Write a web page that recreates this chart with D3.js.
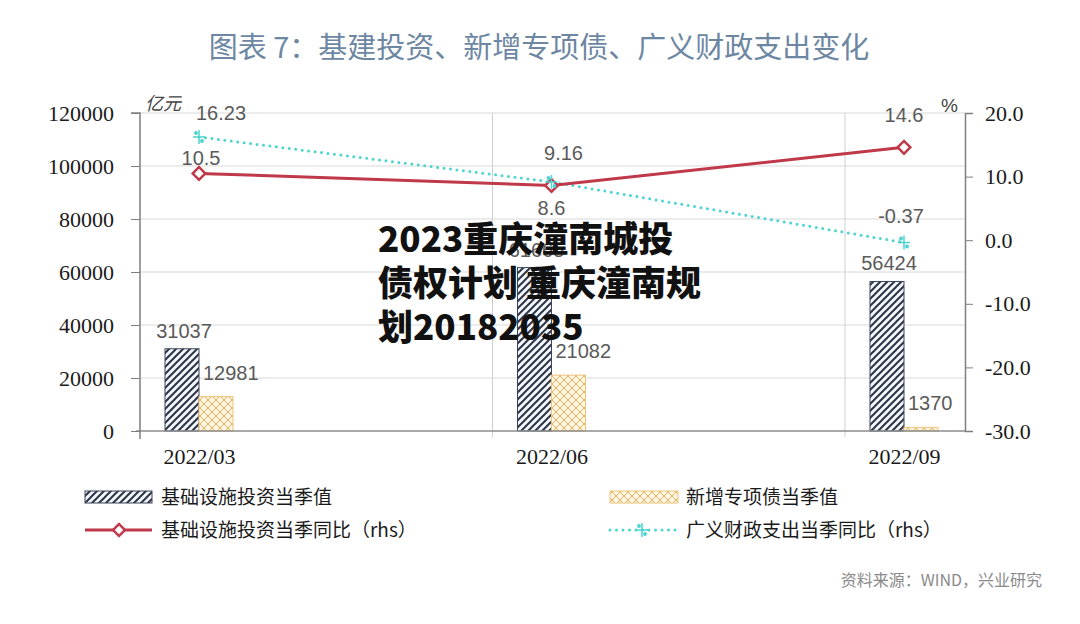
<!DOCTYPE html>
<html>
<head>
<meta charset="utf-8">
<script src="https://cdn.jsdelivr.net/npm/d3@7"></script>
<style>
  html, body { margin: 0; padding: 0; background: #fff; }
  svg { display: block; }
</style>
</head>
<body>
<svg id="chart" width="1080" height="624"></svg>
<script>
// ---------------- data ----------------
const categories = ["2022/03", "2022/06", "2022/09"];
const infraValue = [31037, 61665, 56424];       // 基础设施投资当季值 (亿元)
const bondValue = [12981, 21082, 1370];         // 新增专项债当季值 (亿元)
const infraYoY = [10.5, 8.6, 14.6];             // 基础设施投资当季同比 (rhs, %)
const fiscalYoY = [16.23, 9.16, -0.37];         // 广义财政支出当季同比 (rhs, %)
const leftTicks = [0, 20000, 40000, 60000, 80000, 100000, 120000];
const rightTicks = [-30, -20, -10, 0, 10, 20];
const titleText = "图表 7：基建投资、新增专项债、广义财政支出变化";
const legendLabels = ["基础设施投资当季值", "新增专项债当季值", "基础设施投资当季同比（rhs）", "广义财政支出当季同比（rhs）"];
const sourceText = "资料来源：WIND，兴业研究";
const overlayLines = ["2023重庆潼南城投", "债权计划 重庆潼南规", "划20182035"];

// ---------------- layout / style ----------------
const plot = { left: 140, right: 965, top: 113, bottom: 431 };
const RED = "#c0394a", CYAN = "#4cd4cf", NAVY = "#2c3547";
const serif = "'Liberation Serif', 'DejaVu Serif', serif";
const sans = "'Liberation Sans', Arial, sans-serif";
const cjk = "'Noto Sans CJK SC', sans-serif";

const svg = d3.select("#chart");

// scales
const x = d3.scaleBand().domain(categories).range([plot.left, plot.left + 352.5 * categories.length]).padding(0);
const groupOffset = 59;  // center of each bar pair from start of band
const barW = 34;
const y = d3.scaleLinear().domain([0, 120000]).range([plot.bottom, plot.top]);
const yr = d3.scaleLinear().domain([-30, 20]).range([plot.bottom, plot.top]);
const cx = c => x(c) + groupOffset;

// patterns
const defs = svg.append("defs");
const hp = defs.append("pattern").attr("id", "hatch").attr("patternUnits", "userSpaceOnUse")
  .attr("width", 7).attr("height", 7);
hp.append("rect").attr("width", 7).attr("height", 7).attr("fill", "#f4f7fb");
hp.append("path").attr("d", "M-1,8 L8,-1 M-2,2 L2,-2 M5,9 L9,5").attr("stroke", NAVY).attr("stroke-width", 2);

const cp = defs.append("pattern").attr("id", "cross").attr("patternUnits", "userSpaceOnUse")
  .attr("width", 8).attr("height", 8);
cp.append("rect").attr("width", 8).attr("height", 8).attr("fill", "#fdf4e2");
cp.append("path").attr("d", "M0,0 L8,8 M8,0 L0,8").attr("stroke", "#e2b562").attr("stroke-width", 1);

// title
svg.append("text").attr("x", 539).attr("y", 58).attr("text-anchor", "middle")
  .attr("font-family", cjk).attr("font-size", 29).attr("fill", "#6d87a3").text(titleText);

// horizontal gridlines
svg.append("g").selectAll("line").data(leftTicks.filter(d => d > 0)).join("line")
  .attr("x1", plot.left).attr("x2", plot.right)
  .attr("y1", d => y(d)).attr("y2", d => y(d))
  .attr("stroke", "#d9d9d9").attr("stroke-width", 1);

// vertical gridlines at category band starts
svg.append("g").selectAll("line").data(categories.slice(1)).join("line")
  .attr("x1", d => x(d)).attr("x2", d => x(d))
  .attr("y1", plot.top).attr("y2", plot.bottom + 6)
  .attr("stroke", "#d0d0d0").attr("stroke-width", 1);

// bars
svg.append("g").selectAll("rect").data(categories).join("rect")
  .attr("x", (d, i) => cx(d) - barW).attr("width", barW)
  .attr("y", (d, i) => y(infraValue[i])).attr("height", (d, i) => y(0) - y(infraValue[i]))
  .attr("fill", "url(#hatch)").attr("stroke", "#3b4459").attr("stroke-width", 1);
svg.append("g").selectAll("rect").data(categories).join("rect")
  .attr("x", (d, i) => cx(d)).attr("width", barW)
  .attr("y", (d, i) => y(bondValue[i])).attr("height", (d, i) => y(0) - y(bondValue[i]))
  .attr("fill", "url(#cross)").attr("stroke", "#ecc57d").attr("stroke-width", 1);

// baseline
svg.append("line").attr("x1", plot.left - 4).attr("x2", plot.right)
  .attr("y1", plot.bottom).attr("y2", plot.bottom).attr("stroke", "#8c8c8c").attr("stroke-width", 1.5);

// left axis
const gl = svg.append("g").attr("transform", `translate(${plot.left},0)`)
  .call(d3.axisLeft(y).tickValues(leftTicks).tickSize(9).tickPadding(17).tickFormat(d3.format("d")));
gl.select(".domain").attr("stroke", "#7f7f7f").attr("stroke-width", 1.5).attr("d", `M-9,${plot.top}H0V${plot.bottom + 8}`);
gl.selectAll(".tick line").attr("stroke", "#7f7f7f");
gl.selectAll(".tick text").attr("font-family", serif).attr("font-size", 22).attr("fill", "#1a1a1a");

// right axis
const gr = svg.append("g").attr("transform", `translate(${plot.right},0)`)
  .call(d3.axisRight(yr).tickValues(rightTicks).tickSize(8).tickPadding(12).tickFormat(d3.format(".1f")));
gr.select(".domain").attr("stroke", "#7f7f7f").attr("stroke-width", 1.5);
gr.selectAll(".tick line").attr("stroke", "#7f7f7f");
gr.selectAll(".tick text").attr("font-family", serif).attr("font-size", 22).attr("fill", "#1a1a1a")
  .text(d => d3.format(".1f")(d).replace("−", "-"));

// x-axis labels
const gx = svg.append("g").attr("transform", `translate(0,${plot.bottom})`)
  .call(d3.axisBottom(d3.scalePoint().domain(categories).range([cx(categories[0]), cx(categories[categories.length - 1])]))
    .tickSize(0).tickPadding(17));
gx.select(".domain").remove();
gx.selectAll(".tick text").attr("font-family", serif).attr("font-size", 22).attr("fill", "#1a1a1a");

// unit labels
svg.append("text").attr("x", 145).attr("y", 110).attr("font-family", "'Noto Sans CJK SC', serif")
  .attr("font-style", "italic").attr("font-size", 18).attr("fill", "#444").text("亿元");
svg.append("text").attr("x", 941).attr("y", 112).attr("font-family", sans)
  .attr("font-size", 19).attr("fill", "#444").text("%");

// bar value labels
const lblColor = "#5a5a5a";
svg.append("g").selectAll("text").data(categories).join("text")
  .attr("x", d => cx(d) - barW / 2 + 2).attr("y", (d, i) => y(infraValue[i]) - 11)
  .attr("text-anchor", "middle").attr("font-family", sans).attr("font-size", 20).attr("fill", lblColor)
  .text((d, i) => infraValue[i]);
svg.append("g").selectAll("text").data(categories).join("text")
  .attr("x", d => cx(d) + 4).attr("y", (d, i) => y(bondValue[i]) - 17)
  .attr("font-family", sans).attr("font-size", 20).attr("fill", lblColor)
  .text((d, i) => bondValue[i]);

// lines
const lineGen = arr => d3.line().x((d, i) => cx(categories[i])).y(d => yr(d))(arr);
svg.append("path").attr("d", lineGen(fiscalYoY)).attr("fill", "none")
  .attr("stroke", CYAN).attr("stroke-width", 3).attr("stroke-linecap", "round").attr("stroke-dasharray", "0 6.5");
svg.append("path").attr("d", lineGen(infraYoY)).attr("fill", "none")
  .attr("stroke", RED).attr("stroke-width", 3);

// markers
svg.append("g").selectAll("path").data(infraYoY).join("path")
  .attr("transform", (d, i) => `translate(${cx(categories[i])},${yr(d)}) rotate(45)`)
  .attr("d", d3.symbol().type(d3.symbolSquare).size(80)())
  .attr("fill", "#fff").attr("stroke", RED).attr("stroke-width", 2.5);
const cyanMarker = g => {
  g.append("line").attr("x1", 0).attr("x2", 0).attr("y1", -7).attr("y2", 7);
  g.append("line").attr("x1", -6).attr("x2", 6).attr("y1", 0).attr("y2", 0);
  g.append("circle").attr("cx", -3).attr("cy", -4).attr("r", 1.2);
  g.append("circle").attr("cx", 3).attr("cy", 4).attr("r", 1.2);
};
svg.append("g").selectAll("g").data(fiscalYoY).join("g")
  .attr("transform", (d, i) => `translate(${cx(categories[i])},${yr(d)})`)
  .attr("stroke", CYAN).attr("fill", CYAN).attr("stroke-width", 1.5)
  .each(function () { cyanMarker(d3.select(this)); });

// line value labels (style offsets per label)
const redLblOffset = [[2, -8], [0, 29], [0, -25]];
const cyanLblOffset = [[22, -17], [12, -22], [-3, -20]];
svg.append("g").selectAll("text").data(infraYoY).join("text")
  .attr("x", (d, i) => cx(categories[i]) + redLblOffset[i][0]).attr("y", (d, i) => yr(d) + redLblOffset[i][1])
  .attr("text-anchor", "middle").attr("font-family", sans).attr("font-size", 20).attr("fill", lblColor)
  .text(d => d);
svg.append("g").selectAll("text").data(fiscalYoY).join("text")
  .attr("x", (d, i) => cx(categories[i]) + cyanLblOffset[i][0]).attr("y", (d, i) => yr(d) + cyanLblOffset[i][1])
  .attr("text-anchor", "middle").attr("font-family", sans).attr("font-size", 20).attr("fill", lblColor)
  .text(d => d);

// legend
const leg = svg.append("g").attr("font-family", cjk).attr("font-size", 19).attr("fill", "#1a1a1a");
const legPos = [[85, 497], [610, 497], [85, 530], [610, 530]];
leg.append("rect").attr("x", legPos[0][0]).attr("y", legPos[0][1] - 6).attr("width", 67).attr("height", 12)
  .attr("fill", "url(#hatch)").attr("stroke", "#3b4459");
leg.append("rect").attr("x", legPos[1][0]).attr("y", legPos[1][1] - 6).attr("width", 68).attr("height", 12)
  .attr("fill", "url(#cross)").attr("stroke", "#ecc57d");
leg.append("line").attr("x1", legPos[2][0]).attr("x2", legPos[2][0] + 67).attr("y1", legPos[2][1]).attr("y2", legPos[2][1])
  .attr("stroke", RED).attr("stroke-width", 3);
leg.append("path").attr("transform", `translate(${legPos[2][0] + 34},${legPos[2][1]}) rotate(45)`)
  .attr("d", d3.symbol().type(d3.symbolSquare).size(70)())
  .attr("fill", "#fff").attr("stroke", RED).attr("stroke-width", 2.5);
leg.append("line").attr("x1", legPos[3][0]).attr("x2", legPos[3][0] + 68).attr("y1", legPos[3][1]).attr("y2", legPos[3][1])
  .attr("stroke", CYAN).attr("stroke-width", 3).attr("stroke-linecap", "round").attr("stroke-dasharray", "0 6.5");
leg.append("g").attr("transform", `translate(${legPos[3][0] + 32},${legPos[3][1]})`)
  .attr("stroke", CYAN).attr("fill", CYAN).attr("stroke-width", 1.5)
  .call(cyanMarker);
leg.selectAll("text.lbl").data(legendLabels).join("text").attr("class", "lbl")
  .attr("x", (d, i) => legPos[i][0] + 76).attr("y", (d, i) => legPos[i][1] + 7)
  .text(d => d);

// source
svg.append("text").attr("x", 1042).attr("y", 586).attr("text-anchor", "end")
  .attr("font-family", cjk).attr("font-size", 16).attr("fill", "#8a8a8a").text(sourceText);

// overlay text
svg.append("g").selectAll("text").data(overlayLines).join("text")
  .attr("x", 378).attr("y", (d, i) => 252 + i * 44)
  .attr("font-family", cjk).attr("font-weight", 900).attr("font-size", 35).attr("fill", "#111")
  .text(d => d);
</script>
</body>
</html>
